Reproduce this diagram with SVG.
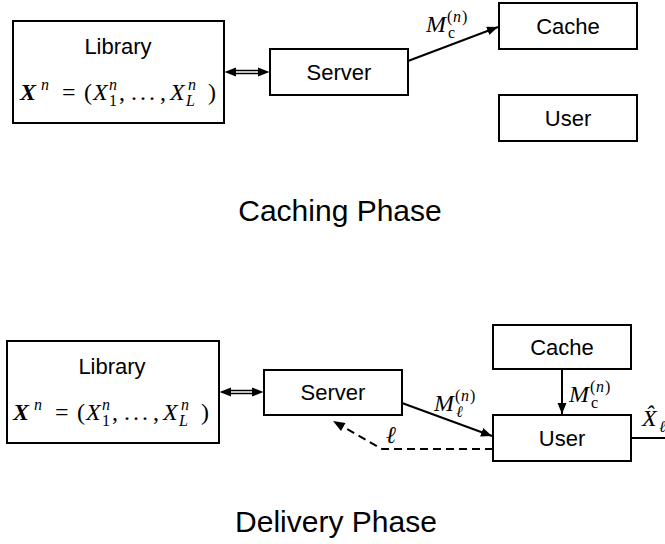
<svg xmlns="http://www.w3.org/2000/svg" width="665" height="544" viewBox="0 0 665 544">
<style>
.box{fill:#fff;stroke:#000;stroke-width:2}
.lbl{font-family:"Liberation Sans",Arial,sans-serif;font-size:22px;fill:#000;text-anchor:middle}
.title{font-family:"Liberation Sans",Arial,sans-serif;font-size:30px;fill:#000;text-anchor:middle}
.m{font-family:"Liberation Serif","DejaVu Serif",serif;font-size:24px;fill:#000}
.mi{font-style:italic}
.mb{font-style:italic;font-weight:bold}
.s{font-size:16px}
.ln{stroke:#000;stroke-width:2;fill:none}
.dash{stroke:#000;stroke-width:2;fill:none;stroke-dasharray:8,5}
</style>
<defs>
<marker id="ah" markerUnits="userSpaceOnUse" markerWidth="12" markerHeight="10" refX="11" refY="4.5" orient="auto">
<path d="M0,0 L11,4.5 L0,9 z" fill="#000"/>
</marker>
</defs>

<!-- Caching phase -->
<g id="lib1">
<rect class="box" x="13" y="21" width="211" height="102"/>
<text class="lbl" x="118" y="54">Library</text>
<text class="m"><tspan class="mb" x="20" y="100">X</tspan><tspan class="mi s" x="41" y="90">n</tspan><tspan x="62" y="100">=</tspan><tspan x="84" y="100">(</tspan><tspan class="mi" x="93" y="100">X</tspan><tspan class="mi s" x="109" y="90">n</tspan><tspan class="s" x="109" y="106">1</tspan><tspan x="119" y="100">,</tspan><tspan x="131" y="100">.</tspan><tspan x="140" y="100">.</tspan><tspan x="149" y="100">.</tspan><tspan x="160" y="100">,</tspan><tspan class="mi" x="170" y="100">X</tspan><tspan class="mi s" x="188" y="90">n</tspan><tspan class="mi s" x="186" y="106">L</tspan><tspan x="208" y="100">)</tspan></text>
</g>
<g id="srv1">
<rect class="box" x="270" y="49" width="138" height="46"/>
<text class="lbl" x="339" y="80">Server</text>
</g>
<g id="cache1">
<rect class="box" x="499" y="3" width="138" height="46"/>
<text class="lbl" x="568" y="34">Cache</text>
</g>
<g id="user1">
<rect class="box" x="499" y="95" width="138" height="46"/>
<text class="lbl" x="568" y="126">User</text>
</g>
<text class="title" x="340" y="221">Caching Phase</text>

<!-- Delivery phase -->
<g id="lib2">
<rect class="box" x="7" y="341" width="212" height="102"/>
<text class="lbl" x="112" y="374">Library</text>
<text class="m"><tspan class="mb" x="13" y="420">X</tspan><tspan class="mi s" x="34" y="410">n</tspan><tspan x="55" y="420">=</tspan><tspan x="77" y="420">(</tspan><tspan class="mi" x="86" y="420">X</tspan><tspan class="mi s" x="102" y="410">n</tspan><tspan class="s" x="102" y="426">1</tspan><tspan x="112" y="420">,</tspan><tspan x="124" y="420">.</tspan><tspan x="133" y="420">.</tspan><tspan x="142" y="420">.</tspan><tspan x="153" y="420">,</tspan><tspan class="mi" x="163" y="420">X</tspan><tspan class="mi s" x="181" y="410">n</tspan><tspan class="mi s" x="179" y="426">L</tspan><tspan x="201" y="420">)</tspan></text>
</g>
<g id="srv2">
<rect class="box" x="264" y="370" width="138" height="45"/>
<text class="lbl" x="333" y="400">Server</text>
</g>
<g id="cache2">
<rect class="box" x="493" y="325" width="138" height="44"/>
<text class="lbl" x="562" y="355">Cache</text>
</g>
<g id="user2">
<rect class="box" x="493" y="415" width="138" height="46"/>
<text class="lbl" x="562" y="446">User</text>
</g>
<text class="title" x="336" y="532">Delivery Phase</text>

<!-- Connectors -->
<g id="connectors">
<line x1="232" y1="72" x2="262" y2="72" stroke="#000" stroke-width="4.5"/>
<line x1="231" y1="72" x2="263" y2="72" stroke="#fff" stroke-width="1.5"/>
<path d="M224.5,72 L236,67.5 L236,76.5 z" fill="#000"/>
<path d="M269.5,72 L258,67.5 L258,76.5 z" fill="#000"/>

<line class="ln" x1="408" y1="61" x2="498" y2="27" marker-end="url(#ah)"/>

<line x1="226" y1="392" x2="257" y2="392" stroke="#000" stroke-width="4.5"/>
<line x1="225" y1="392" x2="258" y2="392" stroke="#fff" stroke-width="1.5"/>
<path d="M219.5,392 L231,387.5 L231,396.5 z" fill="#000"/>
<path d="M263.5,392 L252,387.5 L252,396.5 z" fill="#000"/>

<line class="ln" x1="402" y1="403" x2="492" y2="436" marker-end="url(#ah)"/>
<line class="ln" x1="562" y1="369" x2="562" y2="414" marker-end="url(#ah)"/>
<path class="dash" d="M493,449 L382,449 L340,425"/>
<path d="M333,421 L345.5,423 L341,431 z" fill="#000"/>
<line class="ln" x1="631" y1="438" x2="665" y2="438"/>
</g>

<!-- Connector labels -->
<g id="labels">
<text class="m"><tspan class="mi" x="426" y="32">M</tspan><tspan class="s" x="448" y="38">c</tspan><tspan class="s" x="447" y="22">(</tspan><tspan class="mi s" x="453" y="22">n</tspan><tspan class="s" x="462" y="22">)</tspan></text>
<text class="m"><tspan class="mi" x="434" y="411">M</tspan><tspan class="mi s" x="456" y="417">ℓ</tspan><tspan class="s" x="455" y="401">(</tspan><tspan class="mi s" x="461" y="401">n</tspan><tspan class="s" x="470" y="401">)</tspan></text>
<text class="m"><tspan class="mi" x="569" y="402">M</tspan><tspan class="s" x="591" y="408">c</tspan><tspan class="s" x="590" y="392">(</tspan><tspan class="mi s" x="596" y="392">n</tspan><tspan class="s" x="605" y="392">)</tspan></text>
<text class="m mi" x="386" y="443">ℓ</text>
<text class="m"><tspan class="mi" x="642" y="426">X̂</tspan><tspan class="mi s" x="659" y="432">ℓ</tspan></text>
</g>
</svg>
